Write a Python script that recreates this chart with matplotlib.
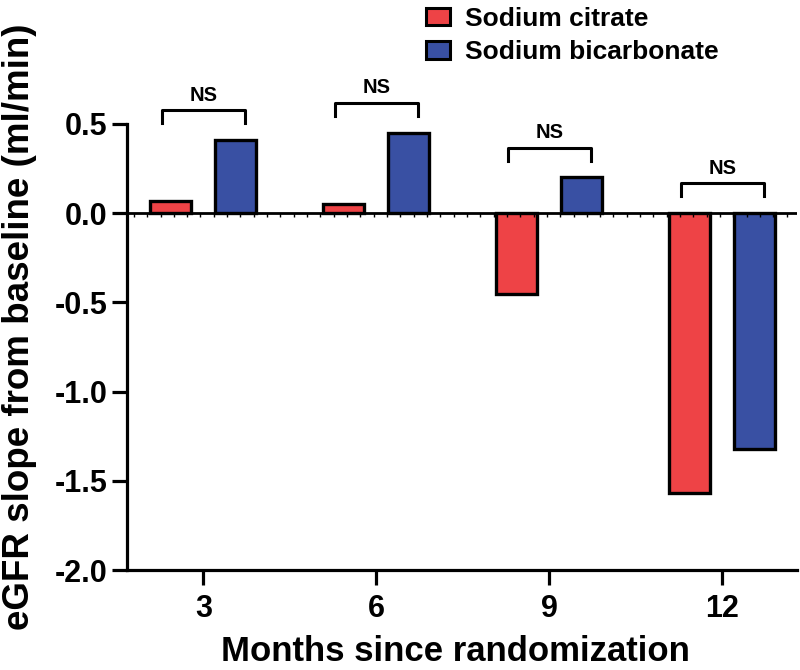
import matplotlib
matplotlib.use("Agg")
import matplotlib.pyplot as plt
import matplotlib.markers as mmarkers
import numpy as np
from matplotlib.patches import Patch

plt.rcParams['font.family'] = ['Liberation Sans', 'DejaVu Sans']
plt.rcParams['font.weight'] = 'bold'

months = ["3", "6", "9", "12"]
citrate = [0.07, 0.05, -0.45, -1.57]
bicarbonate = [0.41, 0.45, 0.20, -1.32]
sig_labels = ["NS", "NS", "NS", "NS"]
series_names = ["Sodium citrate", "Sodium bicarbonate"]

red = '#EE4346'
blue = '#3950A3'

fig = plt.figure(figsize=(8, 6.7), dpi=100)
ax = fig.add_axes([0.159, 0.149, 0.837, 0.666])

x = np.arange(len(months))
w = 0.237
off = 0.1875
lw = 2.4
ax.bar(x - off, citrate, w, color=red, edgecolor='black', linewidth=lw, zorder=3)
ax.bar(x + off, bicarbonate, w, color=blue, edgecolor='black', linewidth=lw, zorder=3)

ax.set_xlim(-0.44, 3.43)
ax.set_ylim(-2.0, 0.5)
ax.set_yticks([0.5, 0.0, -0.5, -1.0, -1.5, -2.0])
ax.set_yticklabels(["0.5", "0.0", "-0.5", "-1.0", "-1.5", "-2.0"])
ax.set_xticks(x)
ax.set_xticklabels(months)

for s in ['top', 'right']:
    ax.spines[s].set_visible(False)
for s in ['left', 'bottom']:
    ax.spines[s].set_linewidth(2.3)
ax.tick_params(axis='both', width=2.3, length=11, labelsize=22, pad=3)
ax.tick_params(axis='x', pad=6)

# zero line with small ticks
ax.axhline(0, color='black', linewidth=2.0, zorder=4)
tx = np.arange(-0.44 + 0.077 * 0.5, 3.43, 0.077)
ax.plot(tx, np.zeros_like(tx), linestyle='none', marker=mmarkers.TICKDOWN,
        markersize=3, markeredgewidth=1.0, color='black', zorder=4)

ax.set_xlabel("Months since randomization", fontsize=25, fontweight='bold')
ax.set_ylabel("eGFR slope from baseline (ml/min)", fontsize=26.5, fontweight='bold')
ax.xaxis.set_label_coords(0.49, -0.145)
ax.yaxis.set_label_coords(-0.135, 0.545)

# significance brackets
for i in range(len(months)):
    top = max(0.0, citrate[i], bicarbonate[i])
    leg = top + 0.095
    h = leg + 0.072
    xl, xr = x[i] - 0.24, x[i] + 0.24
    ax.plot([xl, xl, xr, xr], [leg, h, h, leg], color='black', linewidth=2.2,
            clip_on=False, zorder=5)
    ax.text(x[i], h + 0.085, sig_labels[i], ha='center', va='center',
            fontsize=14.5, fontweight='bold', clip_on=False)

handles = [Patch(facecolor=red, edgecolor='black', linewidth=2.2),
           Patch(facecolor=blue, edgecolor='black', linewidth=2.2)]
fig.legend(handles, series_names, loc='upper left', bbox_to_anchor=(0.532, 0.99),
           frameon=False, fontsize=19, handlelength=0.91, handleheight=0.64,
           handletextpad=0.6, labelspacing=0.37, borderpad=0, borderaxespad=0)

fig.savefig("out.png", dpi=100)
